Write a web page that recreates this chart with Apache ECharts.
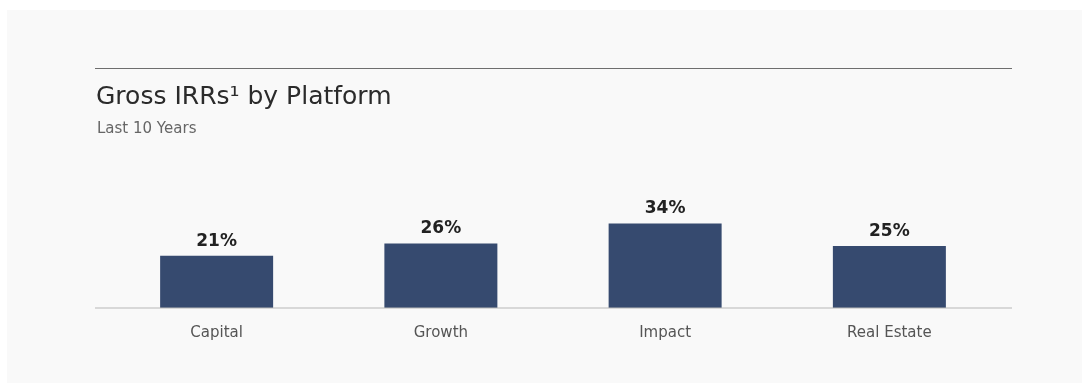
<!DOCTYPE html>
<html>
<head>
<meta charset="utf-8">
<script src="https://cdn.jsdelivr.net/npm/echarts@6/dist/echarts.min.js"></script>
<style>
	html, body { margin: 0; padding: 0; background: #ffffff; }
	#chart { width: 1082px; height: 383px; }
</style>
</head>
<body>
<div id="chart"></div>
<script>
const platforms = ['Capital', 'Growth', 'Impact', 'Real Estate']
const grossIrr = [21, 26, 34, 25]

const barColor = '#364a6f'
const font = 'DejaVu Sans'

const chart = echarts.init(document.getElementById('chart'))

const options = {
	backgroundColor: '#ffffff',
	animation: false,
	title: [
		{
			text: 'Gross IRRs¹ by Platform',
			left: 96,
			top: 85,
			padding: 0,
			textStyle: {
				fontFamily: font,
				fontSize: 25,
				fontWeight: 'normal',
				color: '#2b2b2b',
			},
		},
		{
			text: 'Last 10 Years',
			left: 97,
			top: 122,
			padding: 0,
			textStyle: {
				fontFamily: font,
				fontSize: 15,
				fontWeight: 'normal',
				color: '#666666',
			},
		},
	],
	graphic: [
		{
			type: 'rect',
			z: -10,
			shape: { x: 7, y: 10, width: 1075, height: 373 },
			style: { fill: '#f9f9f9' },
		},
		{
			type: 'line',
			shape: { x1: 95, y1: 68.5, x2: 1012, y2: 68.5 },
			style: { stroke: '#6e6e6e', lineWidth: 1.2 },
		},
		{
			type: 'line',
			z: 10,
			shape: { x1: 95, y1: 308, x2: 1012, y2: 308 },
			style: { stroke: '#b8b8b8', lineWidth: 1.2 },
		},
	],
	grid: {
		left: 104.5,
		right: 80.5,
		top: 159,
		bottom: 75,
	},
	xAxis: {
		type: 'category',
		data: platforms,
		axisLine: { show: false },
		axisTick: { show: false },
		axisLabel: {
			margin: 18,
			fontFamily: font,
			fontSize: 15,
			color: '#555555',
		},
	},
	yAxis: {
		type: 'value',
		min: 0,
		max: 60,
		show: false,
		splitLine: { show: false },
	},
	series: [
		{
			type: 'bar',
			data: grossIrr,
			barWidth: 113,
			itemStyle: { color: barColor },
			label: {
				show: true,
				position: 'top',
				distance: 6,
				formatter: '{c}%',
				fontFamily: font,
				fontSize: 17,
				fontWeight: 'bold',
				color: '#222222',
			},
		},
	],
}

chart.setOption(options)
</script>
</body>
</html>
